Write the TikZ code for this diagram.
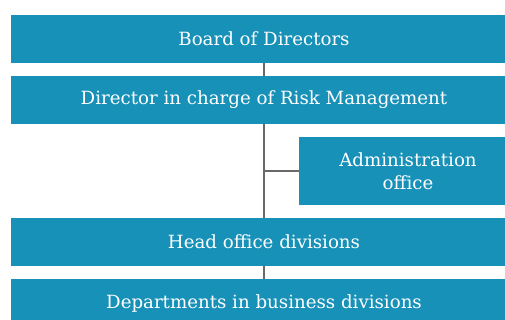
\documentclass[tikz,border=0pt]{standalone}
\usepackage{fontspec}
\setmainfont{DejaVu Serif}
\usetikzlibrary{positioning}
\definecolor{orgblue}{HTML}{1791B8}
\definecolor{linkgrey}{HTML}{696969}

\begin{document}
\begin{tikzpicture}[x=1pt, y=-1pt,
  unit/.style={fill=orgblue, text=white, inner sep=0pt, align=center,
    minimum width=506pt, minimum height=47.5pt, font=\fontsize{18.2}{22.5}\selectfont},
  link/.style={draw=linkgrey, line width=1.3pt}]
\def\sx{264}         % x of the reporting spine
\def\cx{264}         % centre of the full-width units (they run past the right edge)

\useasboundingbox (0,0) rectangle (505,320);
\clip (0,0) rectangle (505,320);

% ---------- units ----------
\node[unit] (board)    at (\cx, 39)  {Board of Directors};
\node[unit] (director) at (\cx, 100) {Director in charge of Risk Management};
\node[unit, minimum width=218pt, minimum height=67.5pt] (admin) at (408, 171)
  {Administration\\office};
\node[unit] (headoffice)  at (\cx, 242) {Head office divisions};
\node[unit] (departments) at (\cx, 303) {Departments in business divisions};

% ---------- reporting lines ----------
\coordinate (spine) at (\sx, 0);
\draw[link] (board.south -| spine) -- (director.north -| spine);
\draw[link] (director.south -| spine) -- (headoffice.north -| spine);
\draw[link] (admin.west) -- (admin.west -| spine);
\draw[link] (headoffice.south -| spine) -- (departments.north -| spine);
\end{tikzpicture}
\end{document}
